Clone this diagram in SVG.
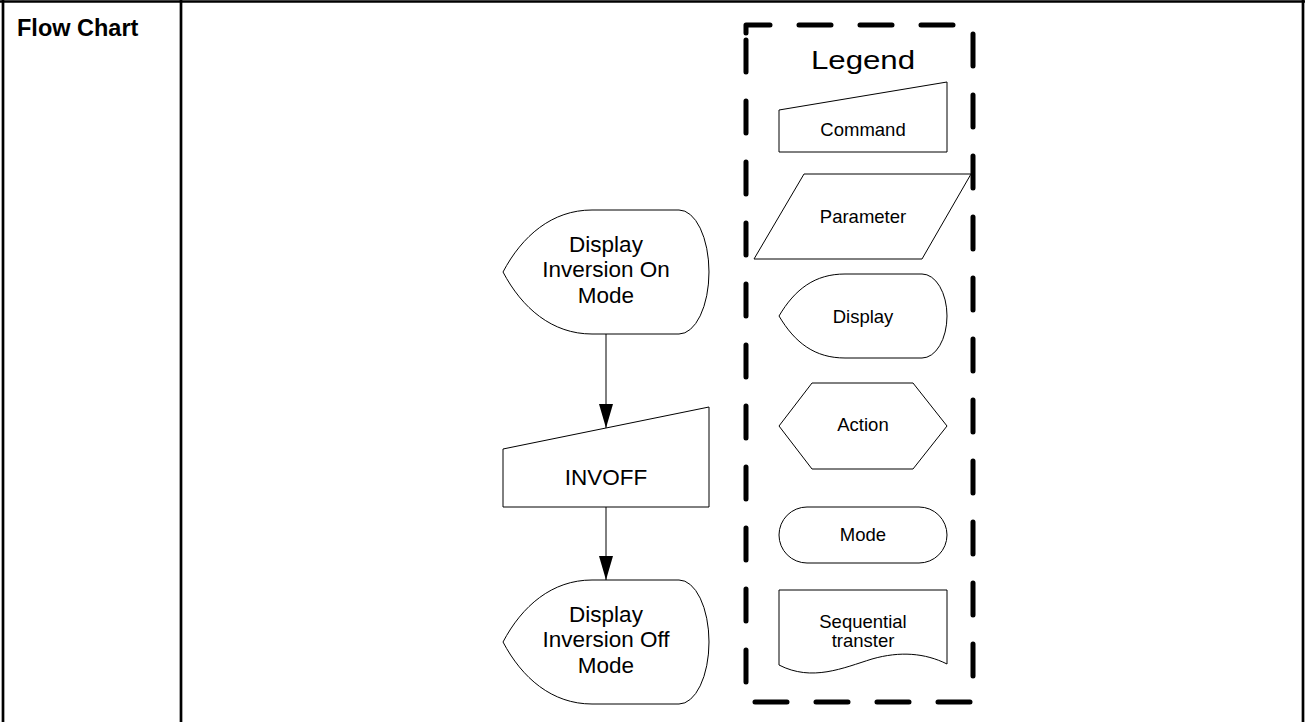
<svg xmlns="http://www.w3.org/2000/svg" width="1305" height="722" viewBox="0 0 1305 722">
<defs>
<style>
.shape{fill:#fff;stroke:#000;stroke-width:1}
.t{font-family:"Liberation Sans",Arial,sans-serif;fill:#000;text-anchor:middle}
.main{font-size:22.5px}
.leg{font-size:18.5px}
.conn{stroke:#000;stroke-width:1;fill:none}
.border{stroke:#000;stroke-width:2.7;fill:none}
</style>
<marker id="arrow" markerUnits="userSpaceOnUse" markerWidth="24" markerHeight="14" refX="24" refY="7" orient="auto" viewBox="0 0 24 14">
<path d="M0,0 L24,7 L0,14 Z" fill="#000"/>
</marker>
</defs>
<rect x="0" y="0" width="1305" height="722" fill="#fff"/>
<g id="table">
<line class="border" x1="0" y1="1.5" x2="1305" y2="1.5"/>
<line class="border" x1="3" y1="0" x2="3" y2="722"/>
<line class="border" x1="181" y1="0" x2="181" y2="722"/>
<line class="border" x1="1303" y1="0" x2="1303" y2="722"/>
<text x="17" y="36" font-family="Liberation Sans, Arial, sans-serif" font-size="23.5" font-weight="bold">Flow Chart</text>
</g>
<g id="connectors">
<line class="conn" x1="606" y1="334" x2="606" y2="428" marker-end="url(#arrow)"/>
<line class="conn" x1="606" y1="507" x2="606" y2="580" marker-end="url(#arrow)"/>
</g>
<g id="node-display-on">
<path class="shape" d="M503 272 C522 236 552 210 592 210 L679 210 A30 62 0 0 1 679 334 L592 334 C552 334 522 308 503 272 Z"/>
<text class="t main" x="606" y="251.5">Display</text>
<text class="t main" x="606" y="277">Inversion On</text>
<text class="t main" x="606" y="302.5">Mode</text>
</g>
<g id="node-invoff">
<path class="shape" d="M503 449 L709 407 L709 507 L503 507 Z"/>
<text class="t main" x="606" y="485">INVOFF</text>
</g>
<g id="node-display-off">
<path class="shape" d="M503 642 C522 606 552 580 592 580 L679 580 A30 62 0 0 1 679 704 L592 704 C552 704 522 678 503 642 Z"/>
<text class="t main" x="606" y="621.5">Display</text>
<text class="t main" x="606" y="647">Inversion Off</text>
<text class="t main" x="606" y="672.5">Mode</text>
</g>
<g id="legend">
<path d="M746 33 V25 H973 V702 H746 Z" fill="none" stroke="#000" stroke-width="5" stroke-dasharray="32 29" stroke-linecap="round" stroke-linejoin="round"/>
<text class="t" transform="translate(863 69) scale(1.25 1)" x="0" y="0" font-size="25">Legend</text>
</g>
<g id="legend-command">
<path class="shape" d="M779 110 L947 82 L947 152 L779 152 Z"/>
<text class="t leg" x="863" y="136">Command</text>
</g>
<g id="legend-parameter">
<path class="shape" d="M804 174 L971 174 L922 259 L754 259 Z"/>
<text class="t leg" x="863" y="222.5">Parameter</text>
</g>
<g id="legend-display">
<path class="shape" d="M779 316 C795 289 815 274 845 274 L922 274 A25 42 0 0 1 922 358 L845 358 C815 358 795 343 779 316 Z"/>
<text class="t leg" x="863" y="323">Display</text>
</g>
<g id="legend-action">
<path class="shape" d="M779 426 L812 383 L913 383 L947 426 L913 469 L812 469 Z"/>
<text class="t leg" x="863" y="431">Action</text>
</g>
<g id="legend-mode">
<rect class="shape" x="779" y="507" width="168" height="56" rx="28" ry="28"/>
<text class="t leg" x="863" y="540.5">Mode</text>
</g>
<g id="legend-sequential">
<path class="shape" d="M779 590 H947 V664 C925 653 900 651 872 659 C843 668 812 682 779 665 Z"/>
<text class="t leg" x="863" y="627.5">Sequential</text>
<text class="t leg" x="863" y="646.5">transter</text>
</g>
</svg>
